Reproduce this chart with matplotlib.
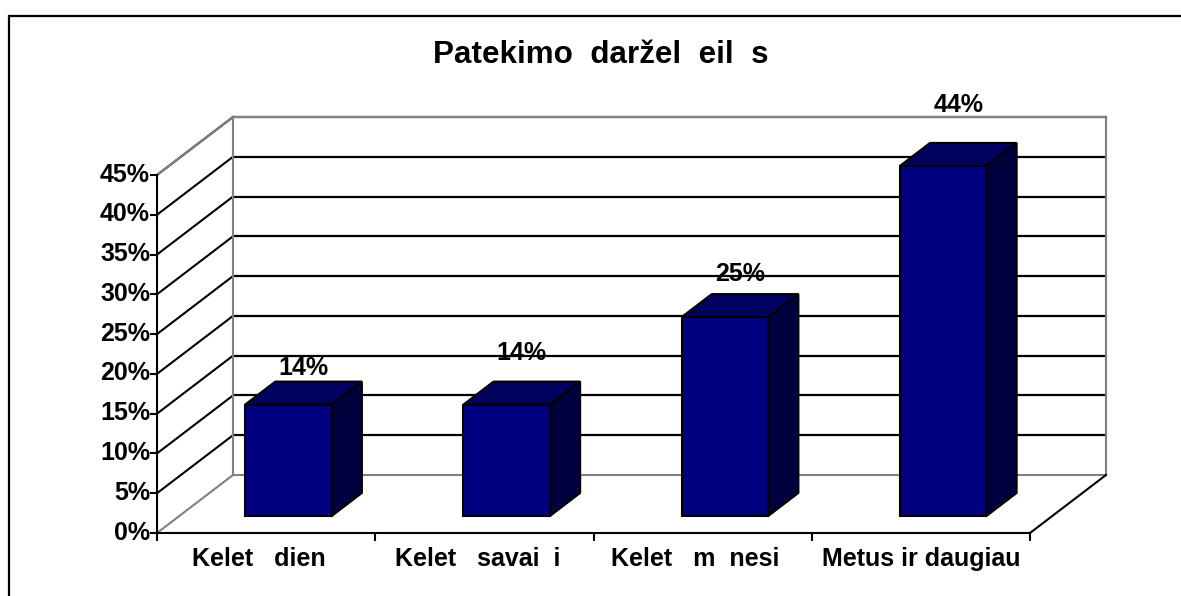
import matplotlib
matplotlib.use("Agg")
import matplotlib.pyplot as plt
from matplotlib.lines import Line2D
from matplotlib.patches import Polygon
from matplotlib.ticker import FuncFormatter
from matplotlib.transforms import ScaledTranslation

plt.rcParams["font.family"] = ["Liberation Sans", "DejaVu Sans"]
plt.rcParams["font.weight"] = "bold"

# values, with the gaps where the source font had no glyph
title = "Patekimo  daržel  eil  s"
categories = ["Kelet   dien  ", "Kelet   savai  i  ", "Kelet   m  nesi  ", "Metus ir daugiau"]
values = [14, 14, 25, 44]
value_labels = ["14%", "14%", "25%", "44%"]
y_ticks = [0, 5, 10, 15, 20, 25, 30, 35, 40, 45]

# depth of the fake 3d floor, in category and percent units
depth_x = 76 / 218.25
depth_y = 58 / 7.956
bar_width = 0.397
bar_depth = (0.293, 0.69)
label_gaps = [1.5, 12, 6, 19]

W, H = 1181, 596
fig = plt.figure(figsize=(W / 100, H / 100), dpi=100)
ax = fig.add_axes([157 / W, (H - 533) / H, 873 / W, 358 / H])
ax.set_xlim(0, 4)
ax.set_ylim(0, 45)


def pt(cat, val, depth=1.0):
    return cat + depth * depth_x, val + depth * depth_y


def seg(p0, p1, color, lw=1.5, zorder=1):
    ax.plot(*zip(p0, p1), color=color, lw=lw, zorder=zorder, clip_on=False,
            solid_capstyle="projecting")


# walls
for v in y_ticks[1:]:
    seg((0, v), pt(0, v), "black")
    seg(pt(0, v), pt(4, v), "black", lw=1.6)
seg((0, 45), pt(0, 45), "#808080", zorder=2)
seg(pt(0, 45), pt(4, 45), "#808080", lw=1.5, zorder=2)
seg((0, 0), pt(0, 0), "#808080", zorder=2)
seg(pt(0, 0), pt(4, 0), "#808080", zorder=2)
seg(pt(0, 0), pt(0, 45), "#808080", zorder=2)
seg(pt(4, 0), pt(4, 45), "#808080", zorder=2)
seg((4, 0), pt(4, 0), "black", zorder=2)

# bars
for i, v in enumerate(values):
    x0 = i + (1 - bar_width) / 2
    x1 = x0 + bar_width
    d0, d1 = bar_depth
    ax.add_patch(Polygon([pt(x0, 0, d0), pt(x1, 0, d0), pt(x1, v, d0), pt(x0, v, d0)],
                         fc="#000080", ec="black", lw=1.5, zorder=4, clip_on=False))
    ax.add_patch(Polygon([pt(x0, v, d0), pt(x1, v, d0), pt(x1, v, d1), pt(x0, v, d1)],
                         fc="#00005e", ec="black", lw=1.5, zorder=4, clip_on=False))
    ax.add_patch(Polygon([pt(x1, 0, d0), pt(x1, 0, d1), pt(x1, v, d1), pt(x1, v, d0)],
                         fc="#00003e", ec="black", lw=1.5, zorder=4, clip_on=False))
    tx = (pt(x0, v, d0)[0] + pt(x1, v, d1)[0]) / 2
    ax.annotate(value_labels[i], (tx, pt(x1, v, d1)[1]), xytext=(0, label_gaps[i]),
                textcoords="offset points", ha="center", va="bottom", fontsize=18,
                zorder=6, annotation_clip=False)

# axes
ax.patch.set_visible(False)
for side in ("top", "right"):
    ax.spines[side].set_visible(False)
for side in ("left", "bottom"):
    ax.spines[side].set_linewidth(1.5)
    ax.spines[side].set_zorder(5)
ax.set_yticks(y_ticks)
ax.yaxis.set_major_formatter(FuncFormatter(lambda v, _: f"{v:.0f}%"))
ax.tick_params(axis="y", length=5, width=1.5, labelsize=18, pad=0)
for label in ax.get_yticklabels():
    label.set_transform(label.get_transform() + ScaledTranslation(0, 3 / 100, fig.dpi_scale_trans))
ax.set_xticks(range(5))
ax.set_xticklabels([])
ax.set_xticks([i + 0.5 for i in range(4)], categories, minor=True)
ax.tick_params(axis="x", which="major", length=6, width=1.5)
ax.tick_params(axis="x", which="minor", length=0, labelsize=18, pad=10)

fig.text(601 / W, 1 - 55 / H, title, ha="center", va="center", fontsize=22.6)

# outer frame, top and left only reach the picture edges
fig.add_artist(Line2D([8.5 / W, 8.5 / W, 1], [0, 1 - 15.5 / H, 1 - 15.5 / H],
                      color="black", lw=1.6, solid_joinstyle="miter"))

fig.savefig("out.png", dpi=100)
